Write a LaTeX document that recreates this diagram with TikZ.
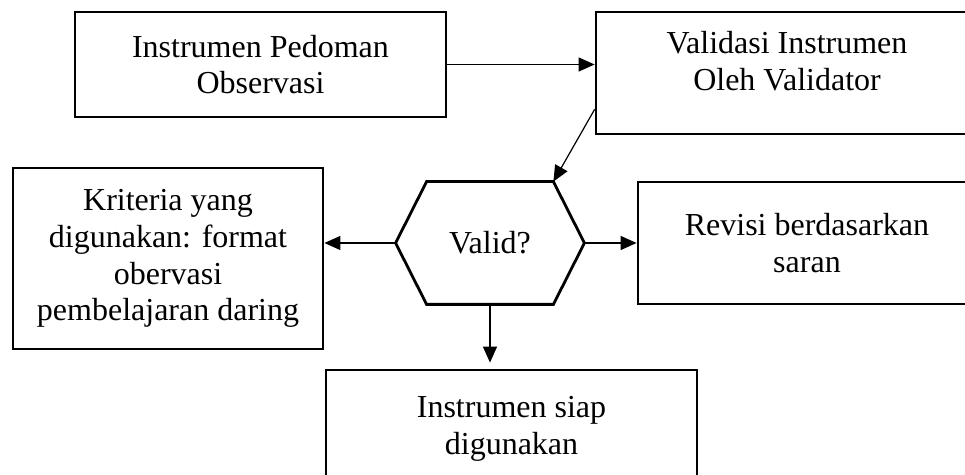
\documentclass[tikz,border=0pt]{standalone}
\usepackage{fontspec}
\setmainfont{Liberation Serif}
\usetikzlibrary{arrows.meta,calc}
\begin{document}
\begin{tikzpicture}[x=0.5pt,y=-0.5pt,
  font=\fontsize{16pt}{18.4pt}\selectfont,
  box/.style={draw, line width=1.4pt, rectangle, align=center, inner sep=0pt},
  conn/.style={-{Triangle[length=8pt,width=7pt]}, line width=0.6pt}]
\useasboundingbox (0,0) rectangle (965,475);
\clip (0,0) rectangle (965,475);
\node[box, minimum width=185.5pt, minimum height=52.5pt] (obs) at (260.5,64.5){Instrumen Pedoman\\Observasi};
\node[box, minimum width=191pt, minimum height=61pt] (val) at (787,73){};
\node[align=center, anchor=north, inner sep=0pt] (valtxt) at (787,31){Validasi Instrumen\\Oleh Validator};
\node[minimum width=94pt, minimum height=61pt, inner sep=0pt] (valid) at (490,243){Valid?};
\coordinate (validnw) at ($(valid.north west)+(31,0)$);
\coordinate (validne) at ($(valid.north east)+(-31,0)$);
\coordinate (validse) at ($(valid.south east)+(-31,0)$);
\coordinate (validsw) at ($(valid.south west)+(31,0)$);
\draw[line width=1.4pt] (valid.west) -- (validnw) -- (validne) -- (valid.east) -- (validse) -- (validsw) -- cycle;
\node[box, minimum width=155pt, minimum height=90.5pt] (krit) at (168,258.5){Kriteria yang\\digunakan: format\\obervasi\\pembelajaran daring};
\node[box, minimum width=169pt, minimum height=61pt] (revisi) at (807,243){Revisi berdasarkan\\saran};
\node[box, minimum width=185.5pt, minimum height=59pt] (siap) at (511.5,429){Instrumen siap\\digunakan};
\draw[conn] (obs.east) -- (obs.east -| val.west);
\draw[conn] ([yshift=13pt]val.south west) -- (validne);
\draw[conn] (valid.west) -- (valid.west -| krit.east);
\draw[conn] (valid.east) -- (valid.east -| revisi.west);
\draw[conn, shorten >=3pt] (valid.south) -- (valid.south |- siap.north);
\end{tikzpicture}
\end{document}
